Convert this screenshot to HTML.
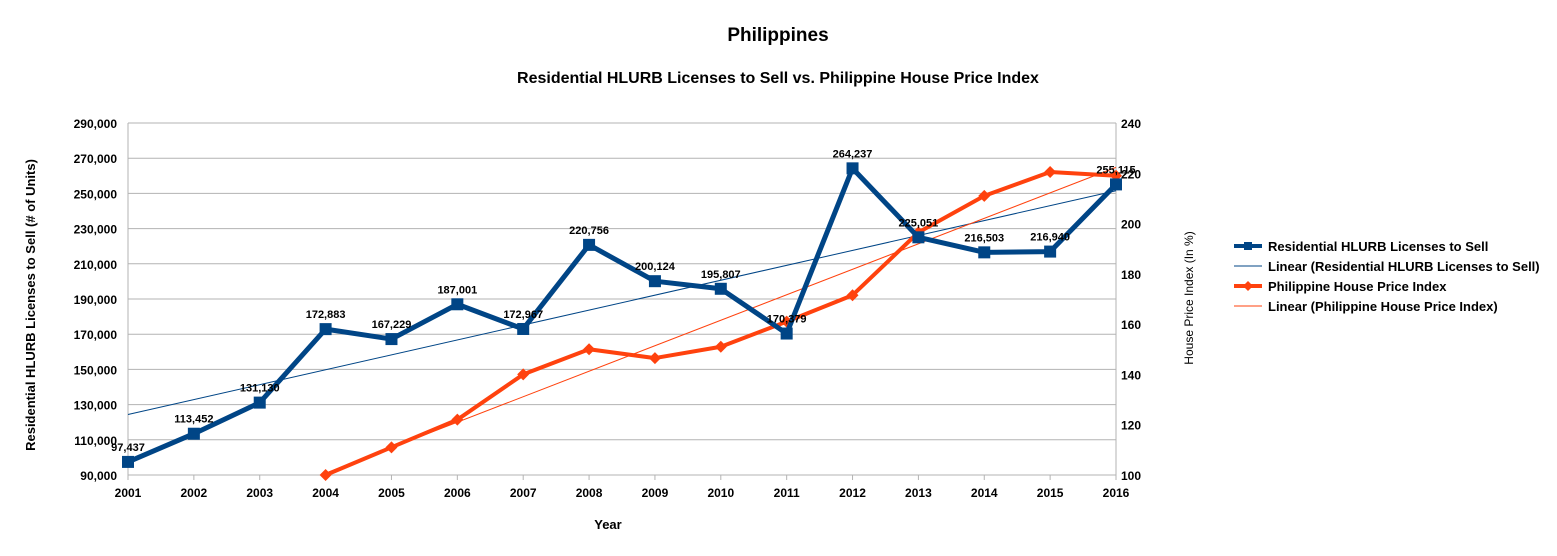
<!DOCTYPE html>
<html><head><meta charset="utf-8"><style>
body{margin:0;background:#fff;font-family:"Liberation Sans",Arial,sans-serif}
svg text{font-family:"Liberation Sans",Arial,sans-serif}
</style></head><body>
<svg id="c" width="1557" height="551" xmlns="http://www.w3.org/2000/svg">
<rect width="1557" height="551" fill="#fff"/>
<text x="778" y="41" text-anchor="middle" font-size="19" font-weight="bold">Philippines</text>
<text x="778" y="83" text-anchor="middle" font-size="16" font-weight="bold">Residential HLURB Licenses to Sell vs. Philippine House Price Index</text>
<g id="grid"></g><g id="axes"></g><g id="series"></g>
<text x="608" y="529" text-anchor="middle" font-size="13" font-weight="bold">Year</text>
<text transform="translate(35,305) rotate(-90)" text-anchor="middle" font-size="13" font-weight="bold">Residential HLURB Licenses to Sell (# of Units)</text>
<text transform="translate(1193,298) rotate(-90)" text-anchor="middle" font-size="12">House Price Index (In %)</text>
<g font-size="13" font-weight="bold">
<g><line x1="1234" y1="246" x2="1262" y2="246" stroke="#004586" stroke-width="4"/><rect x="1244" y="242" width="8" height="8" fill="#004586"/><text x="1268" y="251">Residential HLURB Licenses to Sell</text></g>
<g><line x1="1234" y1="266" x2="1262" y2="266" stroke="#004586" stroke-width="1"/><text x="1268" y="271">Linear (Residential HLURB Licenses to Sell)</text></g>
<g><line x1="1234" y1="286" x2="1262" y2="286" stroke="#ff420e" stroke-width="4"/><path d="M1248 281L1253 286L1248 291L1243 286Z" fill="#ff420e"/><text x="1268" y="291">Philippine House Price Index</text></g>
<g><line x1="1234" y1="306" x2="1262" y2="306" stroke="#ff420e" stroke-width="1"/><text x="1268" y="311">Linear (Philippine House Price Index)</text></g>
</g>
</svg>
<script>
const years=[2001,2002,2003,2004,2005,2006,2007,2008,2009,2010,2011,2012,2013,2014,2015,2016];
const licenses=[97437,113452,131130,172883,167229,187001,172967,220756,200124,195807,170379,264237,225051,216503,216940,255115];
const priceYears=[2004,2005,2006,2007,2008,2009,2010,2011,2012,2013,2014,2015,2016];
const priceIndex=[100,111,122,140,150,146.5,151,161,171.5,196.5,211,220.5,219];
const leftTicks=[90000,110000,130000,150000,170000,190000,210000,230000,250000,270000,290000];
const rightTicks=[100,120,140,160,180,200,220,240];
const NS='http://www.w3.org/2000/svg';
const X0=128,X1=1116,YT=123,YB=475;
const xs=y=>X0+(y-2001)*(X1-X0)/15;
const yl=v=>YB-(v-90000)*(YB-YT)/200000;
const yr=v=>YB-(v-100)*(YB-YT)/140;
function mk(p,t,a){const e=document.createElementNS(NS,t);for(const k in a)e.setAttribute(k,a[k]);document.getElementById(p).appendChild(e);return e;}
const fmt=v=>v.toLocaleString('en-US');
leftTicks.forEach(v=>{
 const l=mk('grid','line',{x1:X0,x2:X1,y1:yl(v),y2:yl(v),stroke:'#b3b3b3'});
 
 
 const t=mk('axes','text',{x:117,y:yl(v)+5,'text-anchor':'end','font-size':12,'font-weight':'bold'});t.textContent=fmt(v);
 
 
});
rightTicks.forEach(v=>{
 const t=mk('axes','text',{x:1121,y:yr(v)+5,'font-size':12,'font-weight':'bold'});t.textContent=v;
 
 
});
mk('axes','line',{x1:X0,x2:X0,y1:YT,y2:YB,stroke:'#b3b3b3'});
mk('axes','line',{x1:X1,x2:X1,y1:YT,y2:YB,stroke:'#b3b3b3'});
years.forEach(y=>{
 mk('axes','line',{x1:xs(y),x2:xs(y),y1:YB,y2:YB+5,stroke:'#b3b3b3'});
 const t=mk('axes','text',{x:xs(y),y:497,'text-anchor':'middle','font-size':12,'font-weight':'bold'});t.textContent=y;
 
 
});
function reg(xv,yv){const n=xv.length;let mx=0,my=0;xv.forEach((x,i)=>{mx+=x;my+=yv[i]});mx/=n;my/=n;let sxy=0,sxx=0;xv.forEach((x,i)=>{sxy+=(x-mx)*(yv[i]-my);sxx+=(x-mx)*(x-mx)});const b=sxy/sxx;return x=>my+b*(x-mx);}
const f1=reg(years,licenses);
const t1=mk('series','line',{x1:xs(2001),y1:yl(f1(2001)),x2:xs(2016),y2:yl(f1(2016)),stroke:'#004586','stroke-width':1});


const f2=reg(priceYears,priceIndex);
let xa=2004; if(f2(xa)<100){xa=2004+(100-f2(2004))/(f2(2005)-f2(2004));}
const t2=mk('series','line',{x1:xs(xa),y1:yr(f2(xa)),x2:xs(2016),y2:yr(f2(2016)),stroke:'#ff420e','stroke-width':1});


const p2=mk('series','polyline',{points:priceYears.map((y,i)=>xs(y)+','+yr(priceIndex[i])).join(' '),fill:'none',stroke:'#ff420e','stroke-width':4,'stroke-linejoin':'round'});


priceYears.forEach((y,i)=>{const cx=xs(y),cy=yr(priceIndex[i]);
 const m=mk('series','path',{d:`M${cx} ${cy-6}L${cx+6} ${cy}L${cx} ${cy+6}L${cx-6} ${cy}Z`,fill:'#ff420e'});
 
 
});
const p1=mk('series','polyline',{points:years.map((y,i)=>xs(y)+','+yl(licenses[i])).join(' '),fill:'none',stroke:'#004586','stroke-width':5,'stroke-linejoin':'round'});


years.forEach((y,i)=>{const cx=xs(y),cy=yl(licenses[i]);
 const m=mk('series','rect',{x:cx-6,y:cy-6,width:12,height:12,fill:'#004586'});
 
 
 const t=mk('series','text',{x:cx,y:cy-11,'text-anchor':'middle','font-size':11,'font-weight':'bold'});t.textContent=fmt(licenses[i]);
 
 
});
</script>
</body></html>
